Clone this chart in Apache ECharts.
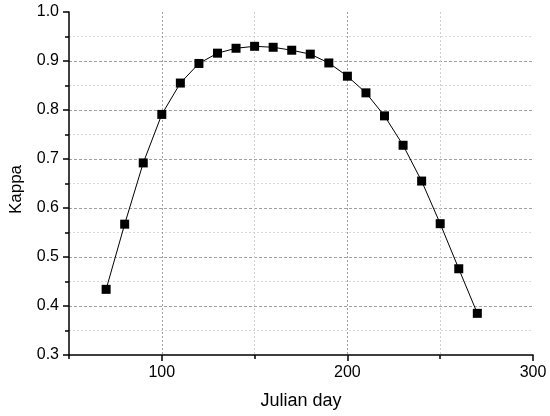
<!DOCTYPE html>
<html>
<head>
<meta charset="utf-8">
<script src="https://cdn.jsdelivr.net/npm/echarts@6/dist/echarts.min.js"></script>
<style>html,body{margin:0;padding:0;background:#fff;}#c{width:550px;height:416px;}</style>
</head>
<body>
<div id="c"></div>
<script>
const julianDays = [70, 80, 90, 100, 110, 120, 130, 140, 150, 160, 170, 180, 190, 200, 210, 220, 230, 240, 250, 260, 270];
const kappa = [0.434, 0.567, 0.692, 0.791, 0.855, 0.895, 0.916, 0.926, 0.930, 0.928, 0.922, 0.914, 0.896, 0.869, 0.835, 0.788, 0.728, 0.655, 0.568, 0.476, 0.385];
const xMajorTicks = [100, 200, 300];
const xName = 'Julian day';
const yName = 'Kappa';

const chart = echarts.init(document.getElementById('c'), null, {renderer: 'canvas'});
const font = 'Liberation Sans, Arial, sans-serif';
chart.setOption({
  animation: false,
  grid: {left: 67, right: 17, top: 12, bottom: 61, containLabel: false},
  xAxis: [{
    type: 'value', min: 50, max: 300, interval: 50,
    name: xName, nameLocation: 'middle', nameGap: 37,
    nameTextStyle: {fontFamily: font, fontSize: 18, color: '#000'},
    axisLine: {show: true, lineStyle: {color: '#000', width: 1.5}},
    axisTick: {show: true, inside: false, length: 4, lineStyle: {color: '#000', width: 1.5}},
    axisLabel: {customValues: xMajorTicks, margin: 10, fontFamily: font, fontSize: 16, color: '#000'},
    splitLine: {show: true, showMinLine: false, showMaxLine: false, lineStyle: {color: ['#a0a0a0', '#d0d0d0'], type: [2, 2], width: 1}}
  }, {
    type: 'value', min: 50, max: 300, interval: 50, position: 'bottom',
    axisLine: {show: false},
    axisTick: {show: true, customValues: xMajorTicks, inside: false, length: 6, lineStyle: {color: '#000', width: 1.5}},
    axisLabel: {show: false},
    splitLine: {show: false}
  }],
  yAxis: {
    type: 'value', min: 0.3, max: 1.0, interval: 0.1,
    name: yName, nameLocation: 'middle', nameGap: 44,
    nameTextStyle: {fontFamily: font, fontSize: 17, color: '#000', padding: [0, 12, 0, 0]},
    axisLine: {show: true, lineStyle: {color: '#000', width: 1.5}},
    axisTick: {show: true, inside: false, length: 6, lineStyle: {color: '#000', width: 1.5}},
    minorTick: {show: true, splitNumber: 2, length: 4, lineStyle: {color: '#000', width: 1.5}},
    axisLabel: {margin: 10, fontFamily: font, fontSize: 16, color: '#000', formatter: v => v.toFixed(1)},
    splitLine: {show: true, showMinLine: false, showMaxLine: false, lineStyle: {color: '#a0a0a0', type: [3, 2], width: 1}},
    minorSplitLine: {show: true, lineStyle: {color: '#d8d8d8', type: [2, 2], width: 1}}
  },
  series: [{
    type: 'line',
    data: julianDays.map((d, i) => [d, kappa[i]]),
    symbol: 'rect', symbolSize: 9,
    itemStyle: {color: '#000'},
    lineStyle: {color: '#000', width: 1}
  }]
});
</script>
</body>
</html>
